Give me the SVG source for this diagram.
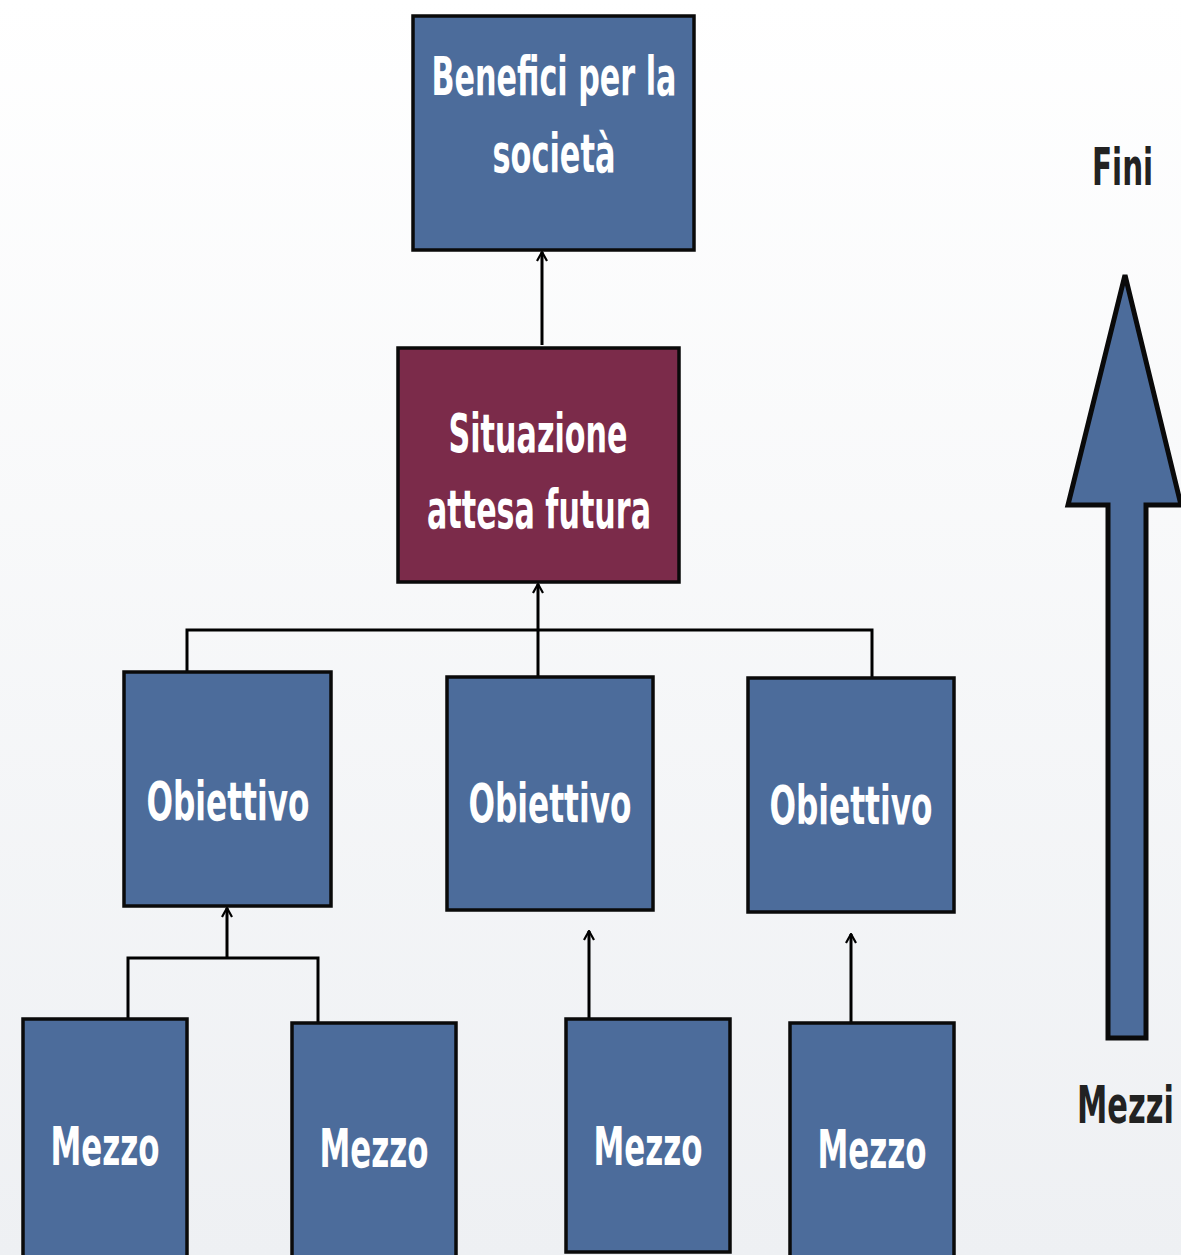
<svg xmlns="http://www.w3.org/2000/svg" width="1181" height="1255" viewBox="0 0 1181 1255">
<defs>
<linearGradient id="bg" x1="0" y1="0" x2="0" y2="1">
<stop offset="0" stop-color="#ffffff"/>
<stop offset="1" stop-color="#eef0f3"/>
</linearGradient>
<marker id="ah" viewBox="0 0 12 12" refX="11" refY="6" markerWidth="12" markerHeight="12" markerUnits="userSpaceOnUse" orient="auto">
<polyline points="2,1 11,6 2,11" fill="none" stroke="#000" stroke-width="2.2"/>
</marker>
<style>
.box{fill:#4c6c9b;stroke:#0a0a0a;stroke-width:3.5}
.boxr{fill:#7b2b4a;stroke:#0a0a0a;stroke-width:3.5}
.t{font-family:"DejaVu Sans Condensed","DejaVu Sans","Liberation Sans",sans-serif;font-weight:bold;font-size:54px;fill:#ffffff;text-anchor:middle}
.d{font-family:"DejaVu Sans Condensed","DejaVu Sans","Liberation Sans",sans-serif;font-weight:bold;font-size:52px;fill:#222222}
.c{fill:none;stroke:#000;stroke-width:3}
</style>
</defs>
<rect x="0" y="0" width="1181" height="1255" fill="url(#bg)"/>

<g id="connectors">
<line class="c" x1="542" y1="345" x2="542" y2="252" marker-end="url(#ah)"/>
<line class="c" x1="538" y1="677" x2="538" y2="584" marker-end="url(#ah)"/>
<polyline class="c" points="187,683 187,630 872,630 872,683"/>
<polyline class="c" points="128,1019 128,958 318,958 318,1023"/>
<line class="c" x1="227" y1="958" x2="227" y2="908" marker-end="url(#ah)"/>
<line class="c" x1="589" y1="1019" x2="589" y2="931" marker-end="url(#ah)"/>
<line class="c" x1="851" y1="1023" x2="851" y2="934" marker-end="url(#ah)"/>
</g>

<g id="benefici">
<rect class="box" x="413" y="16" width="281" height="234"/>
<text class="t" x="554" y="95" textLength="245" lengthAdjust="spacingAndGlyphs">Benefici per la</text>
<text class="t" x="554" y="172" textLength="123" lengthAdjust="spacingAndGlyphs">società</text>
</g>

<g id="situazione">
<rect class="boxr" x="398" y="348" width="281" height="234"/>
<text class="t" x="538" y="452" textLength="179" lengthAdjust="spacingAndGlyphs">Situazione</text>
<text class="t" x="539" y="528" textLength="224" lengthAdjust="spacingAndGlyphs">attesa futura</text>
</g>

<g id="obiettivo1">
<rect class="box" x="124" y="672" width="207" height="234"/>
<text class="t" x="228" y="820" textLength="163" lengthAdjust="spacingAndGlyphs">Obiettivo</text>
</g>
<g id="obiettivo2">
<rect class="box" x="447" y="677" width="206" height="233"/>
<text class="t" x="550" y="822" textLength="163" lengthAdjust="spacingAndGlyphs">Obiettivo</text>
</g>
<g id="obiettivo3">
<rect class="box" x="748" y="678" width="206" height="234"/>
<text class="t" x="851" y="824" textLength="163" lengthAdjust="spacingAndGlyphs">Obiettivo</text>
</g>

<g id="mezzo1">
<rect class="box" x="23" y="1019" width="164" height="240"/>
<text class="t" x="105" y="1165" textLength="109" lengthAdjust="spacingAndGlyphs">Mezzo</text>
</g>
<g id="mezzo2">
<rect class="box" x="292" y="1023" width="164" height="236"/>
<text class="t" x="374" y="1167" textLength="109" lengthAdjust="spacingAndGlyphs">Mezzo</text>
</g>
<g id="mezzo3">
<rect class="box" x="566" y="1019" width="164" height="233"/>
<text class="t" x="648" y="1165" textLength="109" lengthAdjust="spacingAndGlyphs">Mezzo</text>
</g>
<g id="mezzo4">
<rect class="box" x="790" y="1023" width="164" height="236"/>
<text class="t" x="872" y="1168" textLength="109" lengthAdjust="spacingAndGlyphs">Mezzo</text>
</g>

<g id="big-arrow">
<path d="M1125,275 L1181,505 L1146,505 L1146,1038 L1108,1038 L1108,505 L1068,505 Z" fill="#4c6c9b" stroke="#0a0a0a" stroke-width="5" stroke-linejoin="miter"/>
</g>

<g id="labels">
<text class="d" transform="translate(1092,185) scale(0.63,1)" x="0" y="0" textLength="97" lengthAdjust="spacingAndGlyphs">Fini</text>
<text class="d" transform="translate(1077,1123) scale(0.65,1)" x="0" y="0" textLength="149" lengthAdjust="spacingAndGlyphs">Mezzi</text>
</g>
</svg>
